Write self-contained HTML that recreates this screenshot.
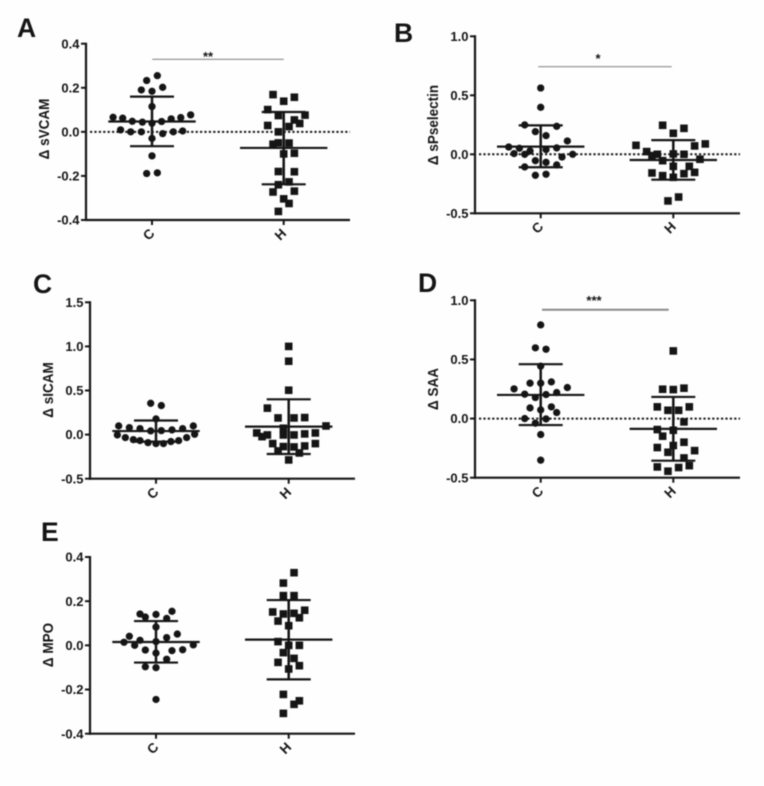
<!DOCTYPE html>
<html lang="en">
<head>
<meta charset="utf-8">
<title>Delta biomarker scatter plots</title>
<style>
html,body{margin:0;padding:0;background:#fefefe;}
body{width:764px;height:786px;overflow:hidden;}
svg{display:block;}
text{font-family:"Liberation Sans",sans-serif;font-weight:700;fill:#151515;}
</style>
</head>
<body>
<svg id="figure" xmlns="http://www.w3.org/2000/svg" width="764" height="786" viewBox="0 0 764 786">
<g id="root" style="filter:blur(0.45px)"></g>
</svg>
<script>
// Category and series names
const categories = ['C', 'H'];

// Panel A: sVCAM
const aTicks = [0.4, 0.2, 0.0, -0.2, -0.4];
const aTickLabels = ['0.4', '0.2', '0.0', '-0.2', '-0.4'];
const aCValues = [.255,.233,.202,.19,.184,.115,.077,.066,.062,.065,.059,.048,.047,.044,.039,.009,0,0,-.008,0,.004,-.03,-.109,-.189,-.186];
const aCSlots = [1,-1,2,-2,0,0,7.25,-7.3,-5.5,5.4,3.6,-3.7,1.8,-1.8,0,-5.9,-4,-2,2,4,5.75,0,0,-1,1];
const aHValues = [.169,.157,.139,.101,.076,.074,.054,.038,.029,.024,0,-.056,-.05,-.051,-.1,-.097,-.18,-.181,-.24,-.227,-.273,-.269,-.304,-.325,-.361];
const aHSlots = [-2,2,0,-3,4,-1,2,3,-3,1,-1,-2,-1,1,0,2,-1,2,-1,1,-2,2,0,1,-1];
const aCStats = [0.047, 0.16, -0.065];
const aHStats = [-0.073, 0.09, -0.238];

// Panel B: sPselectin
const bTicks = [1.0, 0.5, 0.0, -0.5];
const bTickLabels = ['1.0', '0.5', '0.0', '-0.5'];
const bCValues = [.562,.398,.249,.237,.192,.158,.113,.062,.051,.054,.028,.04,.006,0,0,-.023,-.054,-.068,-.107,-.09,-.178,-.169];
const bCSlots = [0,0,-3,3,-1,1,5,-6,-4,3,-2,1,-5,-3,6,4,-1,1,-3,3,-1,1];
const bHValues = [.246,.22,.178,.076,.088,.071,.023,-.011,0,.003,0,-.054,-.042,-.102,-.102,-.158,-.153,-.181,-.195,-.164,-.395,-.362];
const bHSlots = [-2,2,0,-7,6,4,-5,-4,-3,0,2,-2,5,0,3,-4,4,-2,0,2,-1,1];
const bCStats = [0.065, 0.245, -0.11];
const bHStats = [-0.048, 0.12, -0.215];

// Panel C: sICAM
const cTicks = [1.5, 1.0, 0.5, 0.0, -0.5];
const cTickLabels = ['1.5', '1.0', '0.5', '0.0', '-0.5'];
const cCValues = [.355,.329,.178,.098,.098,.079,.068,.068,.053,.042,.045,-.004,.004,-.034,-.034,-.057,-.068,-.068,-.079,-.091,-.102,-.102];
const cCSlots = [-1,1,0,-7,7,-5,-3,5,3,-1,1,-7.25,7.25,-5.75,5.75,-4.25,4.25,-3,2.8,-1.5,1.4,0];
const cHValues = [1,.832,.503,.3,.189,.189,.193,.098,.072,.019,-.004,-.023,-.004,-.004,.008,.019,-.102,-.102,-.136,-.14,-.129,-.185,-.208,-.287];
const cHSlots = [0,0,0,-4,-2,1,3,7,-1,-6,-4,-5,-1,1,3,5,-3,5,-1,1,3,-2,2,0];
const cCStats = [0.04, 0.16, -0.08];
const cHStats = [0.09, 0.4, -0.22];

// Panel D: SAA
const dTicks = [1.0, 0.5, 0.0, -0.5];
const dTickLabels = ['1.0', '0.5', '0.0', '-0.5'];
const dCValues = [.792,.598,.586,.443,.299,.299,.31,.251,.262,.206,.203,.22,.178,.09,.073,.099,.051,0,-.003,-.039,-.135,-.352];
const dCSlots = [0,-1,1,0,-2,0,2,-5,5,-3,1,3,-1,-2,0,2,3,-3,1,-1,0,0];
const dHValues = [.572,.248,.245,.257,.099,.07,.07,.099,-.028,-.093,-.099,-.149,-.2,-.245,-.228,-.271,-.285,-.333,-.409,-.414,-.398,-.445];
const dHSlots = [0,-2,0,2,-3,-1,1,3,2,-3,0,-2,2,-3,0,4,-1,2,-3,1,3,-1];
const dCStats = [0.2, 0.46, -0.055];
const dHStats = [-0.087, 0.183, -0.356];

// Panel E: MPO
const eTicks = [0.4, 0.2, 0.0, -0.2, -0.4];
const eTickLabels = ['0.4', '0.2', '0.0', '-0.2', '-0.4'];
const eCValues = [.154,.142,.14,.128,.122,.083,.051,.041,.035,.023,.014,.017,0,.002,-.021,-.024,-.02,-.035,-.063,-.097,-.101,-.245];
const eCSlots = [3,-3,0,-2,2,0,4,-5,2,-3,-6,0,-4,7,-2,3,5,0,2,-2,0,0];
const eHValues = [.329,.282,.225,.225,.151,.159,.142,.145,.125,.11,.089,.017,0,0,-.033,-.059,-.077,-.092,-.107,-.222,-.251,-.267,-.308];
const eHSlots = [1,-1,-1,1,-3,3,-1,1,2,-2,0,-2,0,2,-1,1,-2,2,0,-1,2,1,-1];
const eCStats = [0.015, 0.11, -0.078];
const eHStats = [0.026, 0.205, -0.154];

const panels = [
  {id:'a', letter:'A', lx:17, ly:37, title:'sVCAM', tx:44, ty:129, ax:86, top:43.7, bottom:220, right:350, cx:152, hx:283.7, dMax:.4, dMin:-.4,
   ticks:aTicks, tickLabels:aTickLabels, cVals:aCValues, cSlots:aCSlots, hVals:aHValues, hSlots:aHSlots, cStats:aCStats, hStats:aHStats,
   zero:true, sig:{stars:'**', x1:152.3, x2:283.7, y:59.3, sx:208, sy:61, w:1.2}},
  {id:'b', letter:'B', lx:394, ly:42, title:'sPselectin', tx:433, ty:125, ax:475, top:36.3, bottom:213.3, right:740, cx:540.7, hx:673.3, dMax:1, dMin:-.5,
   ticks:bTicks, tickLabels:bTickLabels, cVals:bCValues, cSlots:bCSlots, hVals:bHValues, hSlots:bHSlots, cStats:bCStats, hStats:bHStats,
   zero:true, sig:{stars:'*', x1:538.3, x2:671.7, y:66.7, sx:598, sy:63, w:1.2}},
  {id:'c', letter:'C', lx:33, ly:293, title:'sICAM', tx:48, ty:390, ax:90, top:302.3, bottom:478.7, right:355, cx:156, hx:288.7, dMax:1.5, dMin:-.5,
   ticks:cTicks, tickLabels:cTickLabels, cVals:cCValues, cSlots:cCSlots, hVals:cHValues, hSlots:cHSlots, cStats:cCStats, hStats:cHStats,
   zero:false, sig:null},
  {id:'d', letter:'D', lx:418, ly:292, title:'SAA', tx:433, ty:389, ax:475, top:300.3, bottom:477.7, right:740, cx:540.7, hx:673.3, dMax:1, dMin:-.5,
   ticks:dTicks, tickLabels:dTickLabels, cVals:dCValues, cSlots:dCSlots, hVals:dHValues, hSlots:dHSlots, cStats:dCStats, hStats:dHStats,
   zero:true, sig:{stars:'***', x1:542, x2:668.7, y:309.7, sx:594, sy:305, w:2}},
  {id:'e', letter:'E', lx:41, ly:541, title:'MPO', tx:48, ty:645, ax:90, top:557, bottom:733.7, right:355, cx:156, hx:288.7, dMax:.4, dMin:-.4,
   ticks:eTicks, tickLabels:eTickLabels, cVals:eCValues, cSlots:eCSlots, hVals:eHValues, hSlots:eHSlots, cStats:eCStats, hStats:eHStats,
   zero:false, sig:null}
];

const SVGNS = 'http://www.w3.org/2000/svg';
const INK = '#151515';
const SLOT_PX = 5.33;
const MEAN_HALF = 43.7;
const CAP_HALF = 22;

function mk(parent, tag, attrs, text) {
  const el = document.createElementNS(SVGNS, tag);
  for (const k in attrs) el.setAttribute(k, attrs[k]);
  if (text !== undefined) el.textContent = text;
  parent.appendChild(el);
  return el;
}

function drawPoint(g, shape, x, y) {
  let el;
  if (shape === 'circle') {
    el = mk(g, 'circle', {cx:x, cy:y, r:3.65, fill:INK});
  } else {
    el = mk(g, 'rect', {x:x-3.8, y:y-3.8, width:7.6, height:7.6, fill:INK});
  }
  
  
}

function drawSeries(parent, p, name, shape, xc, vals, slots, stats, yScale) {
  const g = mk(parent, 'g', {});
  
  
  vals.forEach(function (v, i) {
    drawPoint(g, shape, xc + slots[i] * SLOT_PX, yScale(v));
  });
  const line = {stroke:INK, 'stroke-width':2.2};
  const mean = mk(g, 'line', Object.assign({x1:xc-MEAN_HALF, x2:xc+MEAN_HALF, y1:yScale(stats[0]), y2:yScale(stats[0])}, line));
  
  
  const bar = mk(g, 'line', Object.assign({x1:xc, x2:xc, y1:yScale(stats[1]), y2:yScale(stats[2])}, line, {'stroke-width':2.5}));
  
  
  const capU = mk(g, 'line', Object.assign({x1:xc-CAP_HALF, x2:xc+CAP_HALF, y1:yScale(stats[1]), y2:yScale(stats[1])}, line));
  
  
  const capL = mk(g, 'line', Object.assign({x1:xc-CAP_HALF, x2:xc+CAP_HALF, y1:yScale(stats[2]), y2:yScale(stats[2])}, line));
  
  
}

function drawPanel(root, p) {
  const yScale = function (v) {
    return p.top + (p.dMax - v) / (p.dMax - p.dMin) * (p.bottom - p.top);
  };
  const g = mk(root, 'g', {});
  
  

  const letter = mk(g, 'text', {x:p.lx, y:p.ly, 'font-size':26.5}, p.letter);
  
  

  if (p.zero) {
    const zero = mk(g, 'line', {x1:p.ax+4, x2:p.right, y1:yScale(0), y2:yScale(0), stroke:INK, 'stroke-width':2, 'stroke-dasharray':'2.2 2.2'});
    
    
  }

  drawSeries(g, p, 'C', 'circle', p.cx, p.cVals, p.cSlots, p.cStats, yScale);
  drawSeries(g, p, 'H', 'square', p.hx, p.hVals, p.hSlots, p.hStats, yScale);

  const yAxis = mk(g, 'line', {x1:p.ax, x2:p.ax, y1:p.top-1, y2:p.bottom+1, stroke:INK, 'stroke-width':2.2});
  
  
  const xAxis = mk(g, 'line', {x1:p.ax-1, x2:p.right, y1:p.bottom, y2:p.bottom, stroke:INK, 'stroke-width':2.2});
  
  

  p.ticks.forEach(function (t, i) {
    const y = yScale(t);
    const tick = mk(g, 'line', {x1:p.ax-5, x2:p.ax, y1:y, y2:y, stroke:INK, 'stroke-width':2});
    
    
    const lab = mk(g, 'text', {x:p.ax-6.5, y:y+4.6, 'font-size':13, 'text-anchor':'end'}, p.tickLabels[i]);
    
    
  });

  [p.cx, p.hx].forEach(function (x, i) {
    const tick = mk(g, 'line', {x1:x, x2:x, y1:p.bottom, y2:p.bottom+5, stroke:INK, 'stroke-width':2});
    
    
    const lx = x - 3.2, ly = p.bottom + 14.5;
    const lab = mk(g, 'text', {x:lx, y:ly, 'font-size':13.5, 'text-anchor':'middle', 'dominant-baseline':'central', transform:'rotate(-45 ' + lx + ' ' + ly + ')'}, categories[i]);
    
    
  });

  const title = mk(g, 'text', {x:0, y:0, 'font-size':14.5, 'text-anchor':'middle', 'dominant-baseline':'central', transform:'translate(' + p.tx + ' ' + p.ty + ') rotate(-90) scale(0.93 1)'}, '\u0394 ' + p.title);
  
  

  if (p.sig) {
    const sigLine = mk(g, 'line', {x1:p.sig.x1, x2:p.sig.x2, y1:p.sig.y, y2:p.sig.y, stroke:'#8a8a8a', 'stroke-width':p.sig.w});
    
    
    const stars = mk(g, 'text', {x:p.sig.sx, y:p.sig.sy, 'font-size':13, 'text-anchor':'middle'}, p.sig.stars);
    
    
  }
}

const rootGroup = document.getElementById('root');
panels.forEach(function (p) { drawPanel(rootGroup, p); });
</script>
</body>
</html>
